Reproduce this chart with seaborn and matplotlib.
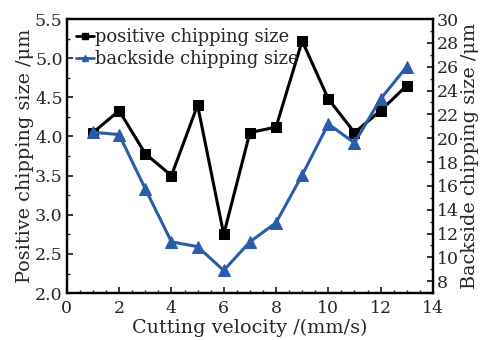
import matplotlib
matplotlib.use("Agg")
import matplotlib.pyplot as plt
import seaborn as sns
import pandas as pd
from matplotlib.ticker import MultipleLocator
from matplotlib.lines import Line2D

velocity = [1, 2, 3, 4, 5, 6, 7, 8, 9, 10, 11, 12, 13]
positive = [4.05, 4.33, 3.78, 3.50, 4.40, 2.75, 4.05, 4.12, 5.22, 4.48, 4.05, 4.33, 4.65]
backside = [20.5, 20.3, 15.75, 11.3, 10.9, 8.9, 11.3, 12.9, 16.9, 21.2, 19.6, 23.3, 26.0]

sns.set_style("ticks")
plt.rcParams["font.family"] = ["DejaVu Serif", "Liberation Serif"]
plt.rcParams["mathtext.fontset"] = "dejavuserif"

df = pd.DataFrame({"v": velocity, "pos": positive, "back": backside})

fig = plt.figure(figsize=(4.81, 3.40), dpi=100)
ax = fig.add_axes([0.139, 0.138, 0.761, 0.806])
ax2 = ax.twinx()

black = "#000000"
blue = "#2a5caa"

sns.lineplot(data=df, x="v", y="pos", ax=ax, color=black, marker="s", markersize=7,
             linewidth=2.2, markeredgecolor=black)
sns.lineplot(data=df, x="v", y="back", ax=ax2, color=blue, marker="^", markersize=8,
             linewidth=2.2, markeredgecolor=blue)

ax.set_xlim(0, 14)
ax.set_ylim(2.0, 5.5)
ax.xaxis.set_major_locator(MultipleLocator(2))
ax.xaxis.set_minor_locator(MultipleLocator(0.5))
ax.yaxis.set_major_locator(MultipleLocator(0.5))
ax.yaxis.set_minor_locator(MultipleLocator(0.25))
ax2.set_yticks(range(8, 31, 2))
ax2.yaxis.set_minor_locator(MultipleLocator(1))
ax2.set_ylim(7, 30)

fs = 12.5
lfs = 13.8
ax.set_xlabel("Cutting velocity /(mm/s)", fontsize=lfs, labelpad=1)
ax.set_ylabel("Positive chipping size /μm", fontsize=lfs, labelpad=1)
ax2.set_ylabel("Backside chipping size /μm", fontsize=lfs, labelpad=1)

for a in (ax, ax2):
    for s in a.spines.values():
        s.set_visible(True)
        s.set_linewidth(1.6)
        s.set_color("black")
ax.tick_params(axis="x", which="major", pad=5)
ax.tick_params(axis="y", which="major", pad=3)
ax.tick_params(axis="both", which="major", direction="in", length=4, width=1.3, labelsize=fs)
ax.tick_params(axis="both", which="minor", direction="in", length=2, width=1.0)
ax2.tick_params(axis="y", which="major", direction="in", length=4, width=1.3, labelsize=fs, pad=3)
ax2.tick_params(axis="y", which="minor", direction="in", length=2, width=1.0)

handles = [Line2D([], [], color=black, marker="s", markersize=5, linewidth=2),
           Line2D([], [], color=blue, marker="^", markersize=5, linewidth=2)]
ax.legend(handles, ["positive chipping size", "backside chipping size"], loc="upper left",
          frameon=False, fontsize=12.9, handlelength=1.0, handletextpad=0.05,
          borderaxespad=0.3, labelspacing=0.25, borderpad=0.2)

fig.savefig("out.png", dpi=100)
